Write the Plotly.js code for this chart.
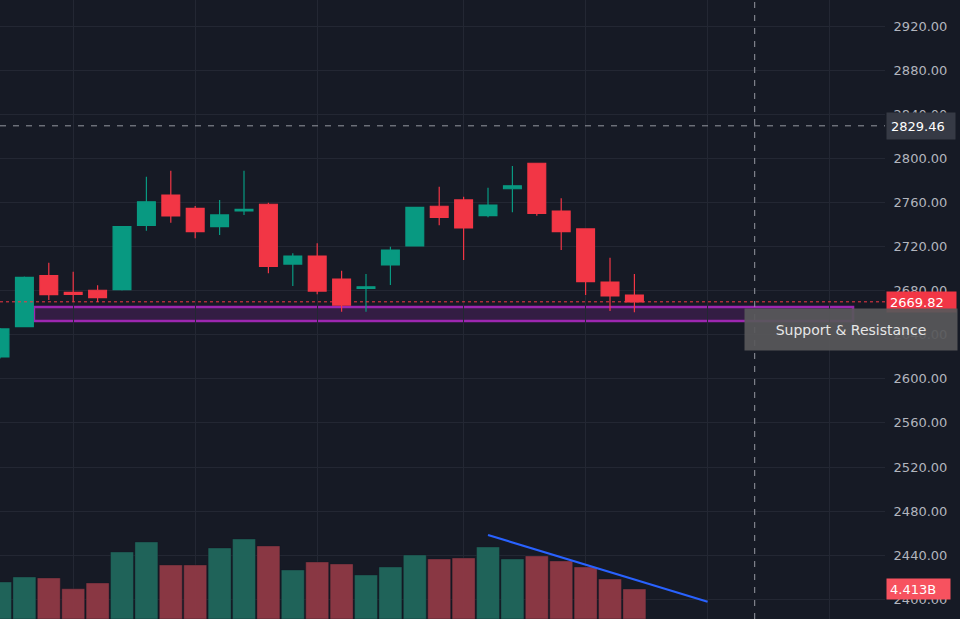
<!DOCTYPE html>
<html>
<head>
<meta charset="utf-8">
<script src="https://cdn.plot.ly/plotly-3.0.1.min.js"></script>
<style>
html,body{margin:0;padding:0;background:#161a25;}
#chart{width:960px;height:619px;}
</style>
</head>
<body>
<div id="chart"></div>
<script>
// ---- data ----
const barIndex = [0,1,2,3,4,5,6,7,8,9,10,11,12,13,14,15,16,17,18,19,20,21,22,23,24,25,26];
const openP  = [2619.8,2647.3,2693.5,2678.3,2680.3,2680.8,2739.2,2766.7,2754.6,2738.0,2752.2,2758.3,2704.1,2711.4,2690.5,2682.1,2703.2,2720.5,2756.5,2762.2,2748.0,2772.4,2795.5,2752.2,2735.9,2687.8,2676.0];
const highP  = [2646.0,2692.8,2705.3,2697.1,2684.8,2738.5,2783.3,2788.8,2756.7,2762.2,2788.8,2759.7,2713.8,2722.9,2698.0,2695.1,2719.8,2756.0,2774.2,2765.2,2773.3,2793.0,2796.0,2763.7,2736.5,2709.8,2695.1];
const lowP   = [2618.5,2646.8,2671.5,2669.9,2669.7,2680.2,2734.3,2741.6,2727.4,2730.4,2748.6,2695.7,2684.2,2676.6,2660.9,2660.9,2685.1,2720.0,2739.2,2707.8,2746.5,2751.0,2747.9,2716.8,2676.0,2661.5,2660.3];
const closeP = [2645.2,2692.0,2676.3,2676.5,2673.6,2738.0,2760.6,2747.7,2733.4,2748.6,2753.6,2702.0,2711.4,2679.6,2666.9,2683.5,2716.8,2755.6,2746.5,2736.8,2757.6,2775.1,2750.1,2733.4,2688.1,2675.1,2669.82];
const volumeB = [5.44,6.18,6.03,4.45,5.30,9.86,11.33,7.94,7.94,10.44,11.77,10.74,7.21,8.38,8.09,6.47,7.65,9.41,8.83,8.97,10.59,8.83,9.27,8.53,7.65,5.88,4.413];
const gridX = [3,8,13,19,24,29,34];
const trendX = [20,29];
const trendY = [12.36,2.54];
const zoneTop = 2665.1, zoneBottom = 2652.4, zoneStart = 1.39, zoneEnd = 34.96;
const lastPrice = 2669.82;
const crossPrice = 2829.46;
const crossX = 30.93;
const lastVolumeLabel = '4.413B';
const zoneLabel = 'Support & Resistance';

const UP = '#089981', DOWN = '#f23645';
const volColors = barIndex.map((i) => closeP[i] >= openP[i] ? 'rgba(32,101,91,0.98)' : 'rgba(140,56,68,0.98)');
const FONT = '"DejaVu Sans", Verdana, sans-serif';

const traces = [
  {
    type: 'bar', x: barIndex, y: volumeB, yaxis: 'y2',
    width: 0.94,
    marker: {color: volColors, line: {width: 1, color: 'rgba(20,24,34,0.35)'}},
    hoverinfo: 'skip', showlegend: false
  },
  {
    type: 'candlestick', x: barIndex, open: openP, high: highP, low: lowP, close: closeP,
    increasing: {line: {color: UP, width: 1.2}, fillcolor: UP},
    decreasing: {line: {color: DOWN, width: 1.2}, fillcolor: DOWN},
    whiskerwidth: 0, hoverinfo: 'skip', showlegend: false
  },
  {
    type: 'scatter', mode: 'lines', x: trendX, y: trendY, yaxis: 'y2',
    line: {color: '#2962ff', width: 2.2}, hoverinfo: 'skip', showlegend: false
  }
];

const layout = {
  width: 960, height: 619,
  margin: {l: 0, r: 75, t: 0, b: 0},
  paper_bgcolor: '#161a25', plot_bgcolor: '#161a25',
  font: {family: FONT, color: '#b2b5be', size: 13},
  boxgap: 0.27, boxgroupgap: 0,
  showlegend: false,
  xaxis: {
    range: [0, 36.27], fixedrange: true,
    tickmode: 'array', tickvals: gridX, showticklabels: false,
    showgrid: true, gridcolor: '#232733', gridwidth: 1,
    zeroline: false, showline: false, ticks: '',
    rangeslider: {visible: false}
  },
  yaxis: {
    side: 'right', range: [2382.13, 2943.58], fixedrange: true,
    tick0: 2400, dtick: 40, tickformat: '.2f',
    showgrid: true, gridcolor: '#232733', gridwidth: 1,
    zeroline: false, showline: false,
    ticks: 'outside', ticklen: 5, tickcolor: 'rgba(0,0,0,0)',
    tickfont: {family: FONT, color: '#b2b5be', size: 13}
  },
  yaxis2: {
    overlaying: 'y', side: 'right', range: [0, 91.05],
    visible: false, fixedrange: true
  },
  shapes: [
    {type: 'rect', xref: 'x', yref: 'y', x0: zoneStart, x1: zoneEnd, y0: zoneBottom, y1: zoneTop,
     fillcolor: 'rgba(156,39,176,0.22)', line: {color: '#9c27b0', width: 2.5}, layer: 'below'},
    {type: 'line', xref: 'paper', yref: 'y', x0: 0, x1: 1, y0: lastPrice, y1: lastPrice,
     line: {color: '#f23645', width: 1, dash: 'dot'}, layer: 'above'},
    {type: 'line', xref: 'paper', yref: 'y', x0: 0, x1: 1, y0: crossPrice, y1: crossPrice,
     line: {color: '#9598a1', width: 1, dash: '6px,7px'}, layer: 'above'},
    {type: 'line', xref: 'x', yref: 'paper', x0: crossX, x1: crossX, y0: 0, y1: 1,
     line: {color: '#9598a1', width: 1, dash: '6px,7px'}, layer: 'above'}
  ],
  annotations: [
    {xref: 'paper', yref: 'y', x: 1, y: crossPrice, xanchor: 'left', yanchor: 'middle', xshift: 1,
     text: crossPrice.toFixed(2), showarrow: false, align: 'left', width: 60, height: 18,
     bgcolor: '#363a45', borderpad: 4, font: {family: FONT, color: '#ffffff', size: 13}},
    {xref: 'paper', yref: 'y', x: 1, y: lastPrice, xanchor: 'left', yanchor: 'middle', xshift: 1,
     text: lastPrice.toFixed(2), showarrow: false, align: 'left', width: 63, height: 14,
     bgcolor: '#f23645', borderpad: 3, font: {family: FONT, color: '#ffffff', size: 13}},
    {xref: 'paper', yref: 'y2', x: 1, y: 4.413, xanchor: 'left', yanchor: 'middle', xshift: 1,
     text: lastVolumeLabel, showarrow: false, align: 'left', width: 57, height: 14,
     bgcolor: '#f7525f', borderpad: 3, font: {family: FONT, color: '#ffffff', size: 13}},
    {xref: 'x', yref: 'y', x: 30.5, y: 2644.3, xanchor: 'left', yanchor: 'middle',
     text: zoneLabel, showarrow: false, align: 'center', width: 192, height: 21,
     bgcolor: 'rgba(88,88,90,0.93)', borderpad: 10, font: {family: FONT, color: '#e6e6e6', size: 14}}
  ]
};

Plotly.newPlot('chart', traces, layout, {displayModeBar: false, staticPlot: true});
</script>
</body>
</html>
